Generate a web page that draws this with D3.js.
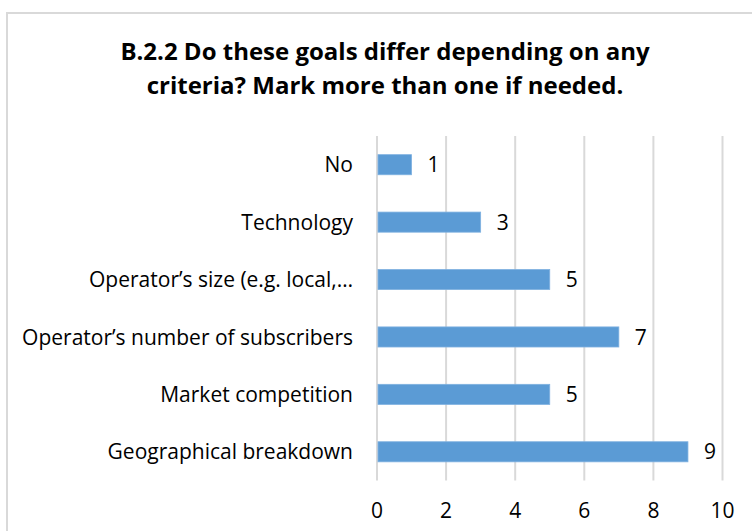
<!DOCTYPE html>
<html>
<head>
<meta charset="utf-8">
<script src="https://cdn.jsdelivr.net/npm/d3@7"></script>
<style>
  html, body { margin: 0; padding: 0; background: #fff; }
  svg { display: block; }
  text { font-family: "Open Sans", sans-serif; fill: #000; }
</style>
</head>
<body>
<svg id="chart" width="752" height="531"></svg>
<script>
// Survey answers, listed top to bottom as shown
const categories = [
  "No",
  "Technology",
  "Operator\u2019s size (e.g. local,\u2026",
  "Operator\u2019s number of subscribers",
  "Market competition",
  "Geographical breakdown"
];
const counts = [1, 3, 5, 7, 5, 9];
const tickValues = [0, 2, 4, 6, 8, 10];
const titleLines = [
  "B.2.2 Do these goals differ depending on any",
  "criteria? Mark more than one if needed."
];

const svg = d3.select("#chart");
const W = 752, H = 531;

// Chart frame (clipped on the right and bottom by the viewport)
svg.append("rect")
  .attr("x", 7).attr("y", 13)
  .attr("width", W + 20).attr("height", H + 20)
  .attr("fill", "#fff")
  .attr("stroke", "#d9d9d9")
  .attr("stroke-width", 2);

const plot = { left: 377, right: 722.5, top: 136, bottom: 480.5 };

const x = d3.scaleLinear().domain([0, 10]).range([plot.left, plot.right]);
const y = d3.scaleBand().domain(categories).range([plot.top, plot.bottom]).paddingInner(0.65).paddingOuter(0.325);

// Vertical gridlines
svg.append("g")
  .selectAll("line")
  .data(tickValues)
  .join("line")
  .attr("x1", d => x(d)).attr("x2", d => x(d))
  .attr("y1", plot.top).attr("y2", plot.bottom)
  .attr("stroke", "#d9d9d9")
  .attr("stroke-width", 2);

// Bars
svg.append("g")
  .selectAll("rect")
  .data(categories)
  .join("rect")
  .attr("x", x(0) + 1)
  .attr("y", d => y(d))
  .attr("width", (d, i) => x(counts[i]) - x(0) - 1)
  .attr("height", y.bandwidth())
  .attr("fill", "#5b9bd5")
  .attr("stroke", "#7fb1e0")
  .attr("stroke-width", 0.8);

// Value labels
svg.append("g")
  .selectAll("text")
  .data(categories)
  .join("text")
  .attr("x", (d, i) => x(counts[i]) + 16)
  .attr("y", d => y(d) + y.bandwidth() / 2)
  .attr("dy", "0.36em")
  .attr("font-size", 21)
  .text((d, i) => counts[i]);

// Category axis labels
svg.append("g")
  .selectAll("text")
  .data(categories)
  .join("text")
  .attr("x", plot.left - 24)
  .attr("y", d => y(d) + y.bandwidth() / 2)
  .attr("dy", "0.36em")
  .attr("text-anchor", "end")
  .attr("font-size", 21)
  .text(d => d);

// Value axis tick labels
svg.append("g")
  .selectAll("text")
  .data(tickValues)
  .join("text")
  .attr("x", d => x(d))
  .attr("y", 510)
  .attr("dy", "0.36em")
  .attr("text-anchor", "middle")
  .attr("font-size", 21)
  .text(d => d);

// Title
svg.append("g")
  .selectAll("text")
  .data(titleLines)
  .join("text")
  .attr("x", 385)
  .attr("y", (d, i) => 60 + i * 34)
  .attr("text-anchor", "middle")
  .attr("font-size", 24)
  .attr("font-weight", "bold")
  .text(d => d);
</script>
</body>
</html>
